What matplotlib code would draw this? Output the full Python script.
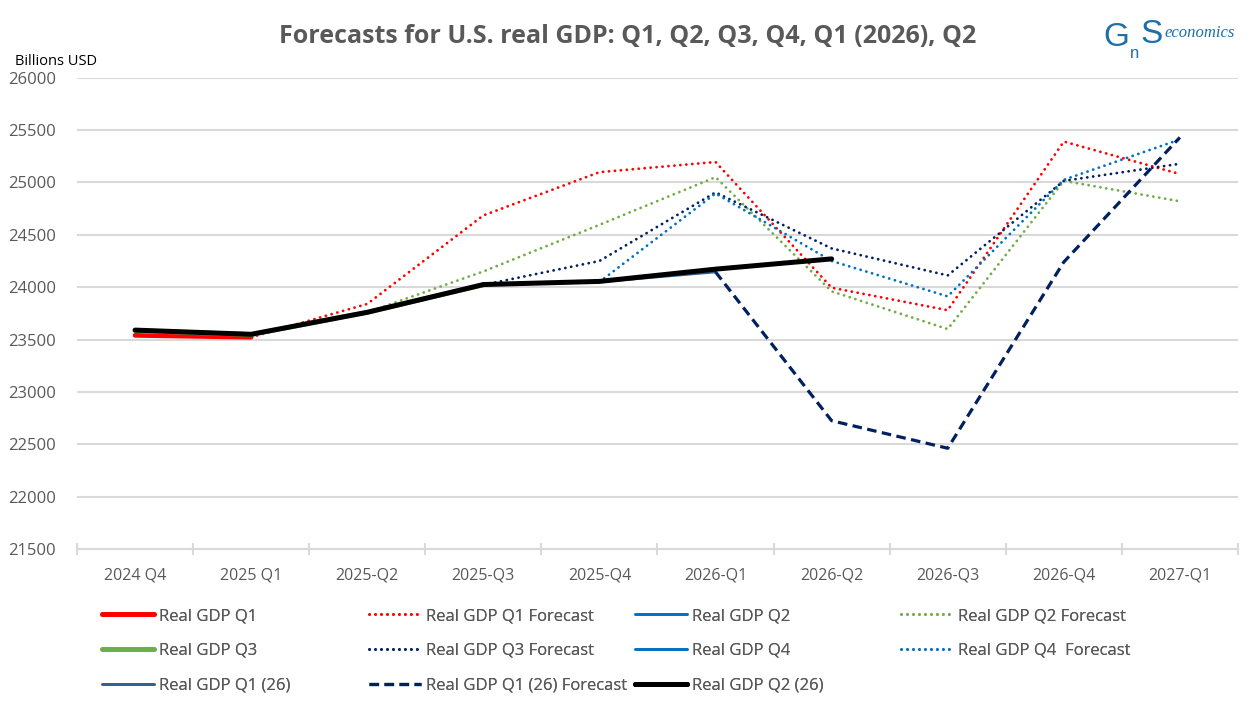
import numpy as np
import matplotlib
matplotlib.use('Agg')
from matplotlib import pyplot as pl

matplotlib.rcParams['font.family'] = ['Open Sans', 'DejaVu Sans']

# categories
quarters = ['2024 Q4', '2025 Q1', '2025-Q2', '2025-Q3', '2025-Q4',
            '2026-Q1', '2026-Q2', '2026-Q3', '2026-Q4', '2027-Q1']

nan = np.nan
# realised series (billions USD), one per vintage
gdpQ1 = [23540, 23522, nan, nan, nan, nan, nan, nan, nan, nan]
gdpQ2 = [23585, 23548, 23760, nan, nan, nan, nan, nan, nan, nan]
gdpQ3 = [23585, 23548, 23760, 24022, nan, nan, nan, nan, nan, nan]
gdpQ4 = [23585, 23548, 23760, 24022, 24050, nan, nan, nan, nan, nan]
gdpQ1_26 = [23585, 23548, 23760, 24022, 24050, 24145, nan, nan, nan, nan]
gdpQ2_26 = [23590, 23550, 23760, 24025, 24055, 24172, 24270, nan, nan, nan]

# forecasts
fcQ1 = [nan, 23522, 23840, 24685, 25098, 25195, 23995, 23780, 25390, 25080]
fcQ2 = [nan, nan, 23760, 24150, 24595, 25050, 23960, 23600, 25015, 24820]
fcQ3 = [nan, nan, nan, 24022, 24250, 24905, 24370, 24112, 25015, 25178]
fcQ4 = [nan, nan, nan, nan, 24050, 24895, 24250, 23912, 25025, 25410]
fcQ1_26 = [nan, nan, nan, nan, nan, 24145, 22725, 22462, 24240, 25430]

red = '#FF0000'
green = '#70AD47'
navy = '#002060'
blue = '#0070C0'
steel = '#2F5F8F'
txtCol = '#595959'
gridCol = '#D9D9D9'
logoCol = '#1F6FA6'

fig = pl.figure(figsize=(12.55, 7.12), dpi=100)
ax = fig.add_axes([0.0614, 0.2289, 0.925, 0.662])
xs = np.arange(len(quarters))

dot = (0, (0.05, 2.1))
dash = (0, (3.0, 1.7))
series = [
  (gdpQ1, 'Real GDP Q1', red, '-', 3.4),
  (fcQ1, 'Real GDP Q1 Forecast', red, dot, 2.0),
  (gdpQ2, 'Real GDP Q2', blue, '-', 1.9),
  (fcQ2, 'Real GDP Q2 Forecast', green, dot, 2.0),
  (gdpQ3, 'Real GDP Q3', green, '-', 3.4),
  (fcQ3, 'Real GDP Q3 Forecast', navy, dot, 2.0),
  (gdpQ4, 'Real GDP Q4', blue, '-', 1.9),
  (fcQ4, 'Real GDP Q4  Forecast', blue, dot, 2.0),
  (gdpQ1_26, 'Real GDP Q1 (26)', steel, '-', 1.9),
  (fcQ1_26, 'Real GDP Q1 (26) Forecast', navy, dash, 2.3),
  (gdpQ2_26, 'Real GDP Q2 (26)', 'black', '-', 3.6),
]

handles = []
for vals, lab, c, ls, lw in series:
  capstyle = 'butt' if ls == dash else 'round'
  h, = ax.plot(xs, vals, color=c, linestyle=ls, linewidth=lw, label=lab,
               solid_capstyle='round', dash_capstyle=capstyle, zorder=3)
  handles.append(h)
# black actuals on top
handles[-1].set_zorder(5)

ax.set_ylim(21500, 26000)
ax.set_xlim(-0.5, len(quarters) - 0.5)
ax.set_yticks(np.arange(21500, 26001, 500))
ax.grid(axis='y', color=gridCol, linewidth=1.5, zorder=0)
ax.set_axisbelow(True)
for s in ['top', 'right', 'left']:
  ax.spines[s].set_visible(False)
ax.spines['bottom'].set_color(gridCol)
ax.spines['bottom'].set_linewidth(1.5)
ax.tick_params(axis='y', length=0, pad=15, labelsize=12, labelcolor=txtCol)

ax.set_xticks(np.arange(-0.5, len(quarters), 1.0))
ax.set_xticklabels([])
ax.tick_params(axis='x', which='major', direction='inout', length=8,
               width=1.5, color=gridCol)
ax.set_xticks(xs, minor=True)
ax.set_xticklabels(quarters, minor=True)
ax.tick_params(axis='x', which='minor', length=0, pad=13, labelsize=11.5,
               labelcolor=txtCol)

fig.text(0.5, 0.949, 'Forecasts for U.S. real GDP: Q1, Q2, Q3, Q4, Q1 (2026), Q2',
         ha='center', va='center', fontsize=18, fontweight='bold', color=txtCol)
fig.text(0.012, 0.913, 'Billions USD', ha='left', va='center', fontsize=10.5,
         color='black')

# logo
fig.text(0.879, 0.948, 'G', ha='left', va='center', fontsize=24,
         color=logoCol, family='Liberation Sans')
fig.text(0.9, 0.925, 'n', ha='left', va='center', fontsize=12,
         color=logoCol, family='Liberation Sans')
fig.text(0.909, 0.952, 'S', ha='left', va='center', fontsize=24,
         color=logoCol, family='Liberation Sans')
fig.text(0.928, 0.953, 'economics', ha='left', va='center', fontsize=12,
         style='italic', color=logoCol, family='Liberation Serif')

# legend in four columns, row-major order as in the chart
colX = [0.076, 0.289, 0.501, 0.713]
for ci in range(4):
  hs = handles[ci::4]
  leg = fig.legend(handles=hs, loc='upper left', bbox_to_anchor=(colX[ci], 0.155),
                   frameon=False, fontsize=12, handlelength=3.1, handletextpad=0.3,
                   labelspacing=1.12, labelcolor=txtCol, borderaxespad=0)
  fig.add_artist(leg)

fig.savefig('out.png', dpi=100)
